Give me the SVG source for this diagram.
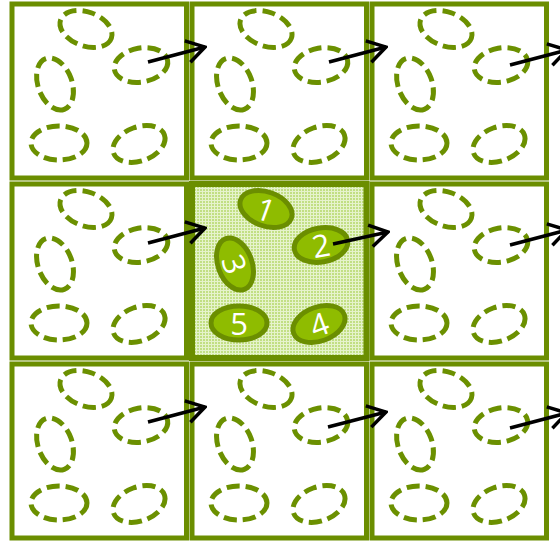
<svg xmlns="http://www.w3.org/2000/svg" width="560" height="542" viewBox="0 0 560 542">
  <style>
    .cell { fill: #ffffff; stroke: #6b8e00; stroke-width: 5; }
    .center { fill: url(#plaid); stroke: #6b8e00; stroke-width: 6; }
    .dash { fill: none; stroke: #6b9000; stroke-width: 5; stroke-dasharray: 13 6; }
    .solid { fill: #8fbc00; stroke: #6b8e00; stroke-width: 5; }
    .num { fill: #ffffff; font-family: "Open Sans", "Liberation Sans", sans-serif; font-size: 31px; text-anchor: middle; dominant-baseline: central; }
    .arrow { fill: none; stroke: #000000; stroke-width: 3.5; marker-end: url(#chev); }
  </style>
  <defs>
    <pattern id="plaid" width="6" height="6" patternUnits="userSpaceOnUse">
      <rect width="6" height="6" fill="#c2df84"/>
      <path d="M0,1.5 H6 M0,4.5 H6 M1.5,0 V6 M4.5,0 V6" stroke="#e6f3cc" stroke-width="1"/>
    </pattern>
    <marker id="chev" markerUnits="userSpaceOnUse" markerWidth="24" markerHeight="26" viewBox="-22 -13 24 26" refX="0" refY="0" orient="auto">
      <path d="M-18,-11 L0,0 L-18,11" fill="none" stroke="#000000" stroke-width="3.5" stroke-linejoin="miter"/>
    </marker>
    <g id="dashset">
      <ellipse class="dash" cx="74" cy="25" rx="27" ry="17" transform="rotate(20 74 25)"/>
      <ellipse class="dash" cx="129" cy="61" rx="27" ry="17" transform="rotate(-10 129 61)"/>
      <ellipse class="dash" cx="43" cy="80" rx="27" ry="17" transform="rotate(70 43 80)"/>
      <ellipse class="dash" cx="47" cy="139" rx="28" ry="17"/>
      <ellipse class="dash" cx="127" cy="140" rx="27" ry="17" transform="rotate(-20 127 140)"/>
    </g>
  </defs>

  <g id="cell-0-0" transform="translate(12 4)">
    <rect class="cell" width="174.5" height="174"/>
    <use href="#dashset"/>
  </g>
  <g id="cell-1-0" transform="translate(192 4)">
    <rect class="cell" width="174.5" height="174"/>
    <use href="#dashset"/>
  </g>
  <g id="cell-2-0" transform="translate(372 4)">
    <rect class="cell" width="174.5" height="174"/>
    <use href="#dashset"/>
  </g>
  <g id="cell-0-1" transform="translate(12 184)">
    <rect class="cell" width="174.5" height="174"/>
    <use href="#dashset"/>
  </g>
  <g id="cell-2-1" transform="translate(372 184)">
    <rect class="cell" width="174.5" height="174"/>
    <use href="#dashset"/>
  </g>
  <g id="cell-0-2" transform="translate(12 364)">
    <rect class="cell" width="174.5" height="174"/>
    <use href="#dashset"/>
  </g>
  <g id="cell-1-2" transform="translate(192 364)">
    <rect class="cell" width="174.5" height="174"/>
    <use href="#dashset"/>
  </g>
  <g id="cell-2-2" transform="translate(372 364)">
    <rect class="cell" width="174.5" height="174"/>
    <use href="#dashset"/>
  </g>

  <g id="cell-center" transform="translate(192 184)">
    <rect class="center" width="174.5" height="174"/>
    <g id="item-1">
      <ellipse class="solid" cx="74" cy="25" rx="27" ry="17" transform="rotate(20 74 25)"/>
      <text class="num" x="74" y="25" transform="rotate(20 74 25)">1</text>
    </g>
    <g id="item-2">
      <ellipse class="solid" cx="129" cy="61" rx="27" ry="17" transform="rotate(-10 129 61)"/>
      <text class="num" x="129" y="61" transform="rotate(-10 129 61)">2</text>
    </g>
    <g id="item-3">
      <ellipse class="solid" cx="43" cy="80" rx="27" ry="17" transform="rotate(70 43 80)"/>
      <text class="num" x="43" y="80" transform="rotate(70 43 80)">3</text>
    </g>
    <g id="item-4">
      <ellipse class="solid" cx="127" cy="140" rx="27" ry="17" transform="rotate(-20 127 140)"/>
      <text class="num" x="127" y="140" transform="rotate(-20 127 140)">4</text>
    </g>
    <g id="item-5">
      <ellipse class="solid" cx="47" cy="139" rx="28" ry="17"/>
      <text class="num" x="47" y="139">5</text>
    </g>
  </g>

  <g id="connectors">
    <line class="arrow" x1="148" y1="62" x2="205" y2="47"/>
    <line class="arrow" x1="329" y1="62" x2="386" y2="47"/>
    <line class="arrow" x1="510" y1="65" x2="567" y2="50"/>
    <line class="arrow" x1="148" y1="243" x2="205" y2="228"/>
    <line class="arrow" x1="333" y1="244" x2="388" y2="232"/>
    <line class="arrow" x1="510" y1="245" x2="567" y2="230"/>
    <line class="arrow" x1="148" y1="422" x2="205" y2="407"/>
    <line class="arrow" x1="328" y1="427" x2="386" y2="412"/>
    <line class="arrow" x1="510" y1="428" x2="567" y2="413"/>
  </g>
</svg>
